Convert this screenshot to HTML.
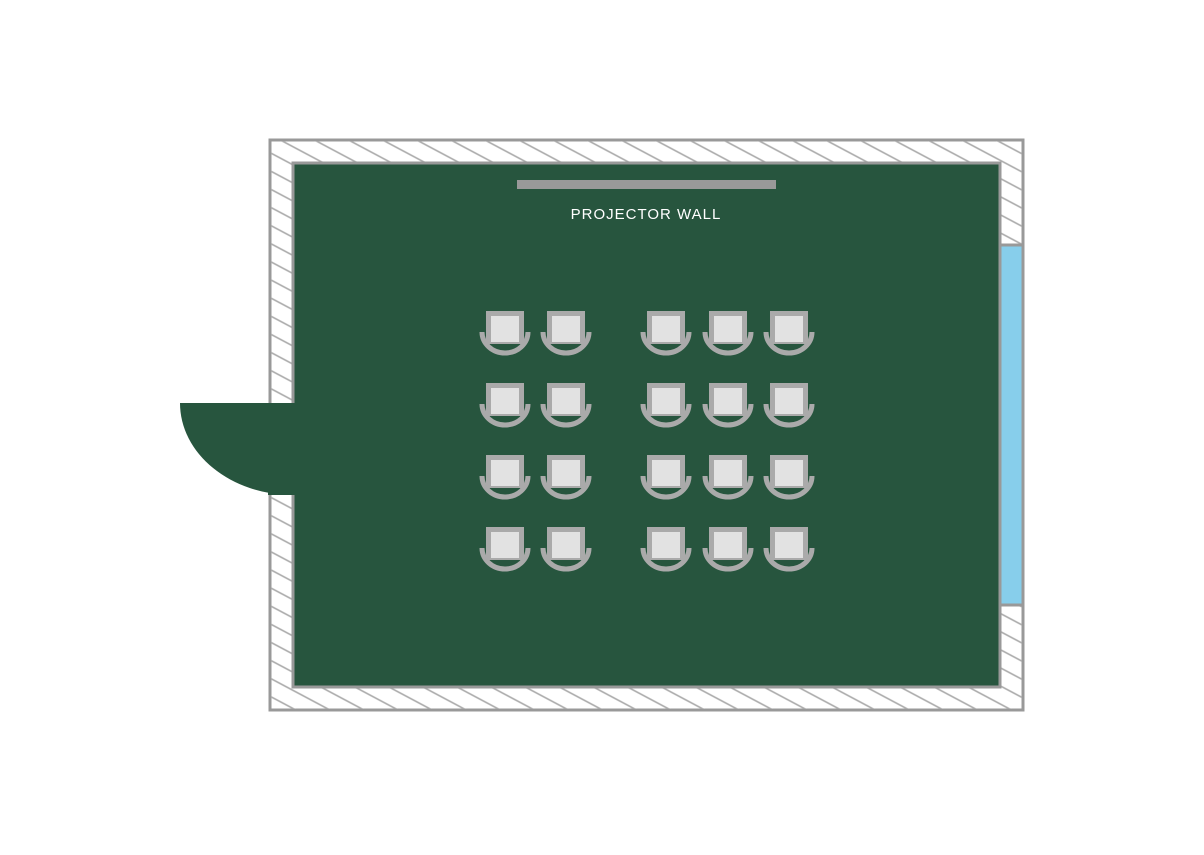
<!DOCTYPE html>
<html><head><style>body{margin:0;background:#fff}</style></head><body>
<svg width="1204" height="850" viewBox="0 0 1204 850" xmlns="http://www.w3.org/2000/svg">
<defs>
<pattern id="h" patternUnits="userSpaceOnUse" width="16" height="16" patternTransform="rotate(28)">
<line x1="0" y1="8" x2="16" y2="8" stroke="#aaa" stroke-width="1.6"/>
</pattern>
<g id="c">
<path d="M-23,-14 A23,21 0 0 0 23,-14" fill="none" stroke="#aaa" stroke-width="5"/>
<rect x="-19" y="-35" width="38" height="33" fill="#aaa"/>
<rect x="-14" y="-30" width="28" height="26" fill="#e2e2e2"/>
</g>
</defs>
<rect x="270" y="140" width="753" height="570" fill="#fff" stroke="#999" stroke-width="3"/>
<rect x="271" y="141" width="751" height="568" fill="url(#h)"/>
<rect x="293" y="163" width="707" height="524" fill="#27553e" stroke="#999" stroke-width="3"/>
<rect x="1000" y="245" width="23" height="360" fill="#87ceeb" stroke="#999" stroke-width="3"/>
<rect x="268" y="403" width="27" height="92" fill="#27553e"/>
<path d="M180,403 L293,403 L293,495 A113,92 0 0 1 180,403 Z" fill="#27553e"/>
<rect x="517" y="180" width="259" height="9" fill="#999"/>
<text x="646" y="219" fill="#fff" font-family="Liberation Sans, sans-serif" font-size="15" letter-spacing="1" text-anchor="middle">PROJECTOR WALL</text>
<g>
<use href="#c" x="505" y="346"/><use href="#c" x="566" y="346"/><use href="#c" x="666" y="346"/><use href="#c" x="728" y="346"/><use href="#c" x="789" y="346"/>
<use href="#c" x="505" y="418"/><use href="#c" x="566" y="418"/><use href="#c" x="666" y="418"/><use href="#c" x="728" y="418"/><use href="#c" x="789" y="418"/>
<use href="#c" x="505" y="490"/><use href="#c" x="566" y="490"/><use href="#c" x="666" y="490"/><use href="#c" x="728" y="490"/><use href="#c" x="789" y="490"/>
<use href="#c" x="505" y="562"/><use href="#c" x="566" y="562"/><use href="#c" x="666" y="562"/><use href="#c" x="728" y="562"/><use href="#c" x="789" y="562"/>
</g>
</svg>
</body></html>
